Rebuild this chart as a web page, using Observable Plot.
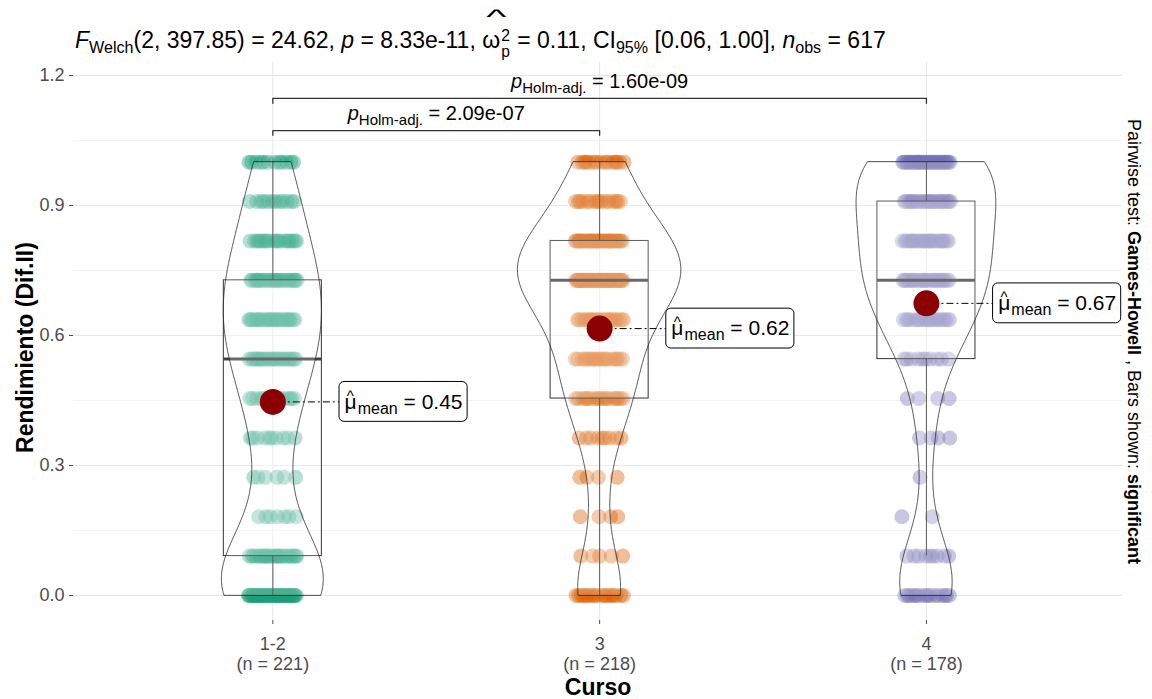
<!DOCTYPE html>
<html><head><meta charset="utf-8">
<script src="https://cdn.jsdelivr.net/npm/d3@7"></script>
<script src="https://cdn.jsdelivr.net/npm/@observablehq/plot@0.6"></script>
<style>
body{margin:0;background:#fff;font-family:"Liberation Sans",Arial,sans-serif;}
#title{height:62px;box-sizing:border-box;padding:26px 0 0 75px;font-size:23px;line-height:28px;white-space:nowrap;color:#000;}
#title sub{font-size:0.7em;line-height:0;vertical-align:-0.32em;}
#title .hat{position:relative;display:inline-block;}
#title .hat .h{position:absolute;left:0;right:0;top:-0.9em;text-align:center;font-size:0.85em;transform:scaleX(2.2);line-height:1;}
#title .stack{display:inline-flex;flex-direction:column;vertical-align:0.42em;font-size:0.68em;line-height:1;margin:0 1px;}
</style></head><body>
<div id="title"><i>F</i><sub>Welch</sub>(2, 397.85) = 24.62, <i>p</i> = 8.33e-11, <span class="hat">ω<span class="stack"><span>2</span><span>p</span></span><span class="h">^</span></span> = 0.11, CI<sub>95%</sub> [0.06, 1.00], <i>n</i><sub>obs</sub> = 617</div>
<div id="chart"></div>
<script>
// ---- data ----
const categories = ["1-2", "3", "4"];
const levels = [0, 0.0909, 0.1818, 0.2727, 0.3636, 0.4545, 0.5455, 0.6364, 0.7273, 0.8182, 0.9091, 1];
const counts12 = [46, 24, 7, 6, 10, 14, 22, 26, 24, 18, 12, 12];
const counts3  = [19, 5, 4, 4, 9, 18, 19, 23, 48, 38, 16, 15];
const counts4  = [17, 9, 2, 1, 4, 4, 10, 20, 26, 25, 25, 35];
const colors = ["#1B9E77", "#D95F02", "#7570B3"];
const pairFrom = ["1-2", "1-2"];
const pairTo = ["3", "4"];
const pairP = ["2.09e-07", "1.60e-09"];
const majorTicks = [0, 0.3, 0.6, 0.9, 1.2];
const minorTicks = [0.15, 0.45, 0.75, 1.05];
const caption = "^Pairwise test: |*Games-Howell|^ , Bars shown: |*significant";

// ---- derived ----
const allCounts = [counts12, counts3, counts4];
const points = [];
const groupVals = allCounts.map(() => []);
allCounts.forEach((counts, g) => counts.forEach((c, k) => {
  for (let j = 0; j < c; j++) {
    const u = (j * 0.6180339887 + k * 0.37 + g * 0.13) % 1;  // deterministic spread (jitter)
    points.push({g, cat: categories[g], x: g + (u * 2 - 1) * 0.075, y: levels[k]});
    groupVals[g].push(levels[k]);
  }
}));

function nrd0(x) {
  const hi = d3.deviation(x);
  const iqr = d3.quantile(x, 0.75) - d3.quantile(x, 0.25);
  let lo = Math.min(hi, iqr / 1.34);
  if (!lo) lo = hi || 1;
  return 0.9 * lo * Math.pow(x.length, -0.2);
}
const stats = groupVals.map((vals, g) => {
  const q1 = d3.quantile(vals, 0.25), med = d3.quantile(vals, 0.5), q3 = d3.quantile(vals, 0.75);
  const iqr = q3 - q1;
  const lo = d3.min(vals.filter(v => v >= q1 - 1.5 * iqr - 1e-9));
  const hi = d3.max(vals.filter(v => v <= q3 + 1.5 * iqr + 1e-9));
  return {g, cat: categories[g], n: vals.length, q1, med, q3, lo, hi, mean: d3.mean(vals)};
});
// violins (gaussian KDE, nrd0 bandwidth, trimmed, scale = "area")
let violin = [];
groupVals.forEach((vals, g) => {
  const bw = nrd0(vals), n = vals.length;
  const mn = d3.min(vals), mx = d3.max(vals);
  for (let t = 0; t < 512; t++) {
    const v = mn + (mx - mn) * t / 511;
    let s = 0;
    for (const y of vals) { const z = (v - y) / bw; s += Math.exp(-0.5 * z * z); }
    violin.push({g, v, f: s / (n * bw * Math.sqrt(2 * Math.PI))});
  }
});
const fmax = d3.max(violin, d => d.f);
violin = violin.map(d => ({...d, w: d.f / fmax * 0.25}));

// pairwise brackets
const idx = c => categories.indexOf(c);
const bracketBase = 1.073, bracketStep = 0.074, tip = 0.011;
const pairs = pairFrom.map((f, i) => ({id: i, a: idx(f), b: idx(pairTo[i]), p: pairP[i], y: bracketBase + i * bracketStep}));
const bracketPts = pairs.flatMap(d => [
  {id: d.id, x: d.a, y: d.y - tip}, {id: d.id, x: d.a, y: d.y},
  {id: d.id, x: d.b, y: d.y}, {id: d.id, x: d.b, y: d.y - tip}]);

const labelOff = 0.4, labelHalfW = 0.196, labelHalfH = 0.046;

const chart = Plot.plot({
  width: 1152, height: 637,
  marginLeft: 73, marginRight: 30, marginTop: 0, marginBottom: 79,
  x: {type: "linear", domain: [-0.61, 2.6], axis: null},
  y: {domain: [-0.0577, 1.23], axis: null},
  color: {domain: categories, range: colors},
  style: {fontFamily: "'Liberation Sans', Arial, sans-serif", background: "white", overflow: "visible"},
  marks: [
    Plot.gridY({ticks: minorTicks, stroke: "#EDEDED", strokeOpacity: 1, strokeWidth: 0.7}),
    Plot.gridY({ticks: majorTicks, stroke: "#E6E6E6", strokeOpacity: 1, strokeWidth: 1}),
    Plot.gridX({ticks: [0, 1, 2], stroke: "#E6E6E6", strokeOpacity: 1, strokeWidth: 1}),
    Plot.axisY({ticks: majorTicks, tickFormat: d3.format(".1f"), tickSize: 4, tickPadding: 5, fontSize: 18, color: "#4D4D4D", label: null}),
    Plot.axisX({ticks: [0, 1, 2], tickFormat: i => `${categories[i]}\n(n = ${stats[i].n})`, tickSize: 4, tickPadding: 11, fontSize: 18, lineHeight: 1.11, color: "#4D4D4D", label: null}),
    Plot.dot(points, {x: "x", y: "y", r: 7.5, fill: "cat", fillOpacity: 0.4}),
    Plot.ruleX(stats, {x: "g", y1: "q3", y2: "hi", stroke: "#333", strokeWidth: 1}),
    Plot.ruleX(stats, {x: "g", y1: "lo", y2: "q1", stroke: "#333", strokeWidth: 1}),
    Plot.rect(stats, {x1: d => d.g - 0.15, x2: d => d.g + 0.15, y1: "q1", y2: "q3", fill: "white", fillOpacity: 0.2, stroke: "#333", strokeWidth: 1}),
    Plot.ruleY(stats, {y: "med", x1: d => d.g - 0.15, x2: d => d.g + 0.15, stroke: "#444", strokeWidth: 3}),
    Plot.areaX(violin, {y: "v", x1: d => d.g - d.w, x2: d => d.g + d.w, z: "g", fill: "white", fillOpacity: 0.2, stroke: "#222", strokeWidth: 0.8}),
    Plot.link(stats, {x1: "g", x2: d => d.g + labelOff - labelHalfW, y1: "mean", y2: "mean", stroke: "#000", strokeWidth: 1, strokeDasharray: "2,3,7,3"}),
    Plot.dot(stats, {x: "g", y: "mean", r: 13, fill: "#8B0000"}),
    Plot.rect(stats, {x1: d => d.g + labelOff - labelHalfW, x2: d => d.g + labelOff + labelHalfW, y1: d => d.mean - labelHalfH, y2: d => d.mean + labelHalfH, fill: "white", stroke: "#000", strokeWidth: 1, rx: 5}),
    Plot.text(stats, {x: d => d.g + labelOff, y: "mean", text: d => `^μ|!^|_mean|^ = ${d3.format(".2f")(d.mean)}`, fontSize: 21, fill: "#000", ariaDescription: "mean-label"}),
    Plot.line(bracketPts, {x: "x", y: "y", z: "id", stroke: "#333", strokeWidth: 1.3}),
    Plot.text(pairs, {x: d => (d.a + d.b) / 2, y: d => d.y + 0.039, text: d => `/p|_Holm-adj.|^ = ${d.p}`, fontSize: 20, fill: "#000", ariaDescription: "p-label"}),
    Plot.text([caption], {text: d => d, frameAnchor: "right", textAnchor: "middle", rotate: 90, dx: 11, fontSize: 18, fill: "#000", ariaDescription: "caption"}),
    Plot.text(["Rendimiento (Dif.II)"], {text: d => d, frameAnchor: "left", textAnchor: "middle", rotate: -90, dx: -48, dy: 6, fontSize: 23, fontWeight: "bold", fill: "#000"}),
    Plot.text(["Curso"], {text: d => d, frameAnchor: "bottom", lineAnchor: "middle", dy: 67, fontSize: 23, fontWeight: "bold", fill: "#000"})
  ]
});

// rich text (subscript / bold / italic / hat segments) inside Plot text elements
function rich(svg, label, subShift, subSize) {
  svg.querySelectorAll(`g[aria-description="${label}"] text`).forEach(t => {
    const s = t.textContent; t.textContent = "";
    t.style.whiteSpace = "pre";
    let cur = 0, pendingDx = 0;
    s.split("|").forEach(part => {
      const m = part[0], str = part.slice(1);
      const ts = document.createElementNS("http://www.w3.org/2000/svg", "tspan");
      ts.textContent = str;
      let target = m === "_" ? subShift : 0;
      if (m === "!") { target = -8; ts.setAttribute("dx", -9.8); ts.setAttribute("font-size", 15); }
      else if (pendingDx) { ts.setAttribute("dx", pendingDx); pendingDx = 0; }
      if (target !== cur) { ts.setAttribute("dy", target - cur); cur = target; }
      if (m === "!") pendingDx = 3.8;
      if (m === "_") ts.setAttribute("font-size", subSize);
      if (m === "*") ts.setAttribute("font-weight", "bold");
      if (m === "/") ts.setAttribute("font-style", "italic");
      t.appendChild(ts);
    });
  });
}
rich(chart, "mean-label", 5, 16);
rich(chart, "p-label", 5, 15);
rich(chart, "caption", 0, 18);
document.getElementById("chart").appendChild(chart);
</script>
</body></html>
